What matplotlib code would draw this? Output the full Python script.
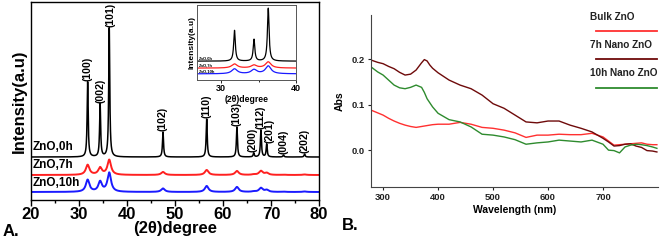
import numpy as np
import matplotlib
matplotlib.use("Agg")
import matplotlib.pyplot as plt
from matplotlib.ticker import MultipleLocator

plt.rcParams['font.family'] = ['Liberation Sans', 'DejaVu Sans']
plt.rcParams['font.weight'] = 'bold'

# ---------------- Panel A data (XRD) ----------------
peak_labels = ["(100)", "(002)", "(101)", "(102)", "(110)", "(103)",
               "(200)", "(112)", "(201)", "(004)", "(202)"]
peak_pos = [31.8, 34.4, 36.3, 47.5, 56.6, 62.9, 66.4, 67.9, 69.1, 72.6, 77.0]
label_pos = [31.7, 34.4, 36.6, 47.5, 56.6, 62.9, 66.1, 67.9, 69.7, 72.6, 77.0]
h_0h = [75, 53, 129, 25, 38, 30, 4, 27, 13, 2, 3]
h_7h = [10, 7, 15, 3, 5, 4, 0.5, 4, 2, 0.3, 0.5]
h_10h = [12, 10, 19, 3.5, 6, 5, 0.5, 4, 2, 0.3, 0.5]
hw_0h = 0.13
hw_nano = 0.45
series_names = ["ZnO,0h", "ZnO,7h", "ZnO,10h"]
series_colors = ["black", "#ff2020", "#1a1aff"]
offsets_main = [43, 25, 8]
offsets_inset = [46, 29, 15]

# ---------------- Panel B data (UV-Vis) ----------------
wl = [278, 290, 300, 310, 320, 330, 340, 350, 360, 370, 375, 380, 385, 390, 400,
      420, 440, 460, 480, 500, 520, 540, 560, 580, 600, 620, 640, 660, 680, 700,
      710, 720, 730, 740, 750, 760, 770, 780, 790, 798]
abs_7h = [0.198, 0.193, 0.190, 0.184, 0.179, 0.171, 0.165, 0.167, 0.176, 0.192, 0.199, 0.196, 0.187, 0.180, 0.170,
          0.154, 0.143, 0.135, 0.121, 0.102, 0.092, 0.077, 0.062, 0.060, 0.064, 0.064, 0.055, 0.048, 0.040, 0.026,
          0.018, 0.009, 0.010, 0.013, 0.014, 0.009, 0.006, -0.001, -0.002, -0.004]
abs_bulk = [0.088, 0.082, 0.077, 0.070, 0.064, 0.059, 0.055, 0.052, 0.050, 0.052, 0.053, 0.054, 0.055, 0.056, 0.057,
            0.057, 0.061, 0.057, 0.050, 0.048, 0.044, 0.038, 0.028, 0.033, 0.033, 0.035, 0.034, 0.034, 0.037, 0.029,
            0.020, 0.011, 0.012, 0.013, 0.014, 0.015, 0.016, 0.013, 0.012, 0.012]
abs_10h = [0.183, 0.172, 0.165, 0.154, 0.143, 0.137, 0.135, 0.138, 0.143, 0.138, 0.127, 0.113, 0.104, 0.095, 0.081,
           0.067, 0.062, 0.051, 0.035, 0.033, 0.029, 0.023, 0.013, 0.016, 0.018, 0.022, 0.020, 0.018, 0.022, 0.013,
           0.000, -0.001, -0.006, 0.007, 0.011, 0.013, 0.012, 0.010, 0.007, 0.004]
uv_names = ["Bulk ZnO", "7h Nano ZnO", "10h Nano ZnO"]
uv_colors = ["#ff3030", "#6e0a0a", "#2e8b2e"]


def pattern(x, heights, hw):
    y = np.zeros_like(x)
    for p, h in zip(peak_pos, heights):
        y += h / (1 + ((x - p) / hw) ** 2)
    return y


fig = plt.figure(figsize=(6.6, 2.42), dpi=100)

# ---------------- Panel A ----------------
axA = fig.add_axes([31/660, 1-200/242, 288/660, 198/242])
x = np.linspace(20, 80, 6001)
all_h = [h_0h, h_7h, h_10h]
all_hw = [hw_0h, hw_nano, hw_nano]
all_lw = [1.1, 1.4, 1.4]
for hs, hw, off, c, lw in zip(all_h, all_hw, offsets_main, series_colors, all_lw):
    axA.plot(x, off + pattern(x, hs, hw), color=c, lw=lw)
axA.set_xlim(20, 80)
axA.set_ylim(0, 198)
axA.set_yticks([])
axA.xaxis.set_major_locator(MultipleLocator(10))
axA.xaxis.set_minor_locator(MultipleLocator(5))
axA.tick_params(axis='x', which='major', labelsize=12, length=4, width=1, pad=1)
axA.tick_params(axis='x', which='minor', length=2.5, width=1)
for lab in axA.get_xticklabels():
    lab.set_fontweight('bold')
for sp in axA.spines.values():
    sp.set_linewidth(1.0)
axA.set_xlabel("(2θ)degree", fontsize=12, fontweight='bold', labelpad=-1)
axA.set_ylabel("Intensity(a.u)", fontsize=12, fontweight='bold', labelpad=3)

for lab, lp, h in zip(peak_labels, label_pos, h_0h):
    axA.text(lp, offsets_main[0] + h + 1, lab, rotation=90, ha='center', va='bottom',
             fontsize=7.6, fontweight='bold')
label_y = [53, 35, 17]
for name, ly in zip(series_names, label_y):
    axA.text(20.4, ly, name, fontsize=8.5, fontweight='bold', va='center', ha='left')

fig.text(3/660, 1-231/242, "A.", fontsize=12, fontweight='bold', va='center', ha='left')

# ---------------- Inset ----------------
axI = fig.add_axes([197/660, 1-80/242, 99/660, 75/242])
xi = np.linspace(26.8, 40, 3001)
for hs, hw, off, c in zip(all_h, all_hw, offsets_inset, series_colors):
    axI.plot(xi, off + pattern(xi, hs, hw), color=c, lw=0.9)
axI.set_xlim(26.8, 40)
axI.set_ylim(0, 183)
axI.set_yticks([])
axI.set_xticks([30, 40])
axI.xaxis.set_minor_locator(MultipleLocator(5))
axI.tick_params(axis='x', which='major', labelsize=6.5, length=2, width=0.6, pad=1)
axI.tick_params(axis='x', which='minor', length=1.2, width=0.6)
for sp in axI.spines.values():
    sp.set_linewidth(0.7)
    sp.set_color('#555555')
axI.set_xlabel("(2θ)degree", fontsize=6.2, fontweight='bold', labelpad=1)
axI.set_ylabel("Intensity(a.u)", fontsize=6, fontweight='bold', labelpad=1)
for name, ly in zip(series_names, [53, 36, 22]):
    axI.text(27.0, ly, name, fontsize=3, fontweight='bold', va='center', ha='left')

# ---------------- Panel B ----------------
axB = fig.add_axes([371/660, 1-187/242, 287/660, 172/242])
for ys, c in zip([abs_bulk, abs_7h, abs_10h], uv_colors):
    axB.plot(wl, ys, color=c, lw=1.0)
axB.set_xlim(278, 800)
axB.set_ylim(-0.081, 0.297)
axB.set_xticks([300, 400, 500, 600, 700])
axB.set_yticks([0.0, 0.1, 0.2])
axB.set_yticklabels(["0.0", "0.1", "0.2"])
axB.spines['top'].set_visible(False)
axB.spines['right'].set_visible(False)
axB.spines['left'].set_color('#444444')
axB.spines['bottom'].set_color('#444444')
axB.tick_params(labelsize=6.8, length=2.5, width=0.8, pad=2, colors='#222222')
for lab in axB.get_xticklabels() + axB.get_yticklabels():
    lab.set_fontweight('bold')
axB.set_xlabel("Wavelength (nm)", fontsize=7.5, fontweight='bold', labelpad=2)
axB.set_ylabel("Abs", fontsize=7.5, fontweight='bold', labelpad=5)

leg_text_y = [0.988, 0.826, 0.663]
leg_line_y = [0.907, 0.744, 0.576]
for name, c, ty, lyy in zip(uv_names, uv_colors, leg_text_y, leg_line_y):
    axB.text(0.763, ty, name, transform=axB.transAxes, fontsize=7.2,
             fontweight='bold', va='center', ha='left', color='#222222')
    axB.plot([0.784, 0.997], [lyy, lyy], transform=axB.transAxes, color=c,
             lw=1.3, clip_on=False)

fig.text(342/660, 1-225/242, "B.", fontsize=12, fontweight='bold', va='center', ha='left')

fig.savefig("out.png", dpi=100)
